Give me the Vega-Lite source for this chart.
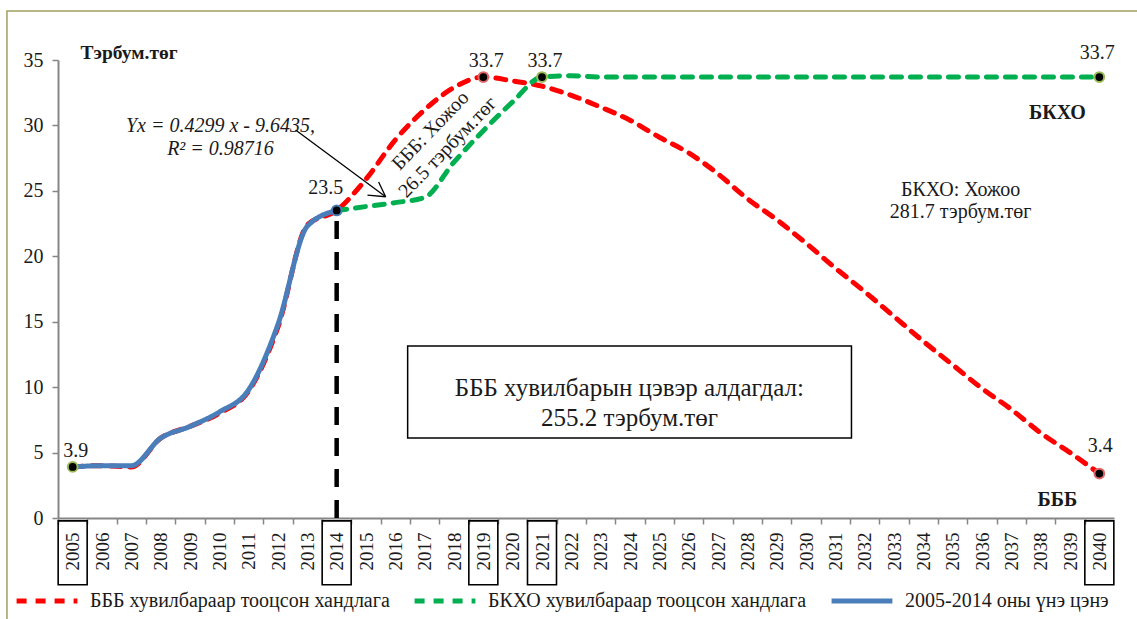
{
  "$schema": "https://vega.github.io/schema/vega-lite/v6.json",
  "width": 1056,
  "height": 458,
  "autosize": {"type": "none"},
  "padding": {"left": 58, "top": 60, "right": 23, "bottom": 101},
  "background": "white",
  "config": {
    "view": {"stroke": null},
    "font": "Liberation Serif",
    "text": {"font": "Liberation Serif", "color": "#1a1a1a"},
    "axis": {"labelOverlap": false, "labelFlush": false, "grid": false},
    "axisX": {
      "labelAngle": -90,
      "labelOverlap": false,
      "labelFlush": false,
      "tickOffset": -14.667,
      "labelOffset": 14.667,
      "tickSize": 6,
      "tickColor": "#868686",
      "tickWidth": 1.5,
      "domainColor": "#868686",
      "domainWidth": 2,
      "labelPadding": 8,
      "labelFont": "Liberation Serif",
      "labelFontSize": 19,
      "labelColor": "#1a1a1a"
    },
    "axisY": {
      "titleAngle": 0,
      "titleAlign": "left",
      "titleBaseline": "alphabetic",
      "titleX": 22,
      "titleY": -2,
      "titleFont": "Liberation Serif",
      "titleFontSize": 19.5,
      "titleFontWeight": "bold",
      "titleColor": "#1a1a1a",
      "tickSize": 6,
      "tickColor": "#868686",
      "tickWidth": 1.5,
      "domainColor": "#868686",
      "domainWidth": 2,
      "labelPadding": 9,
      "labelFont": "Liberation Serif",
      "labelFontSize": 20,
      "labelColor": "#1a1a1a"
    }
  },
  "datasets": {
    "lines": [
      {"year": 2005, "value": 3.9, "series": "БББ хувилбараар тооцсон хандлага"},
      {"year": 2006, "value": 4.0, "series": "БББ хувилбараар тооцсон хандлага"},
      {"year": 2007, "value": 3.9, "series": "БББ хувилбараар тооцсон хандлага"},
      {"year": 2008, "value": 6.1, "series": "БББ хувилбараар тооцсон хандлага"},
      {"year": 2009, "value": 7.0, "series": "БББ хувилбараар тооцсон хандлага"},
      {"year": 2010, "value": 8.0, "series": "БББ хувилбараар тооцсон хандлага"},
      {"year": 2011, "value": 9.7, "series": "БББ хувилбараар тооцсон хандлага"},
      {"year": 2012, "value": 14.6, "series": "БББ хувилбараар тооцсон хандлага"},
      {"year": 2013, "value": 22.4, "series": "БББ хувилбараар тооцсон хандлага"},
      {"year": 2014, "value": 23.5, "series": "БББ хувилбараар тооцсон хандлага"},
      {"year": 2015, "value": 25.9, "series": "БББ хувилбараар тооцсон хандлага"},
      {"year": 2016, "value": 28.9, "series": "БББ хувилбараар тооцсон хандлага"},
      {"year": 2017, "value": 31.2, "series": "БББ хувилбараар тооцсон хандлага"},
      {"year": 2018, "value": 32.9, "series": "БББ хувилбараар тооцсон хандлага"},
      {"year": 2019, "value": 33.7, "series": "БББ хувилбараар тооцсон хандлага"},
      {"year": 2020, "value": 33.4, "series": "БББ хувилбараар тооцсон хандлага"},
      {"year": 2021, "value": 33.0, "series": "БББ хувилбараар тооцсон хандлага"},
      {"year": 2022, "value": 32.3, "series": "БББ хувилбараар тооцсон хандлага"},
      {"year": 2023, "value": 31.4, "series": "БББ хувилбараар тооцсон хандлага"},
      {"year": 2024, "value": 30.4, "series": "БББ хувилбараар тооцсон хандлага"},
      {"year": 2025, "value": 29.1, "series": "БББ хувилбараар тооцсон хандлага"},
      {"year": 2026, "value": 27.9, "series": "БББ хувилбараар тооцсон хандлага"},
      {"year": 2027, "value": 26.3, "series": "БББ хувилбараар тооцсон хандлага"},
      {"year": 2028, "value": 24.4, "series": "БББ хувилбараар тооцсон хандлага"},
      {"year": 2029, "value": 22.8, "series": "БББ хувилбараар тооцсон хандлага"},
      {"year": 2030, "value": 21.0, "series": "БББ хувилбараар тооцсон хандлага"},
      {"year": 2031, "value": 19.1, "series": "БББ хувилбараар тооцсон хандлага"},
      {"year": 2032, "value": 17.3, "series": "БББ хувилбараар тооцсон хандлага"},
      {"year": 2033, "value": 15.4, "series": "БББ хувилбараар тооцсон хандлага"},
      {"year": 2034, "value": 13.5, "series": "БББ хувилбараар тооцсон хандлага"},
      {"year": 2035, "value": 11.7, "series": "БББ хувилбараар тооцсон хандлага"},
      {"year": 2036, "value": 9.9, "series": "БББ хувилбараар тооцсон хандлага"},
      {"year": 2037, "value": 8.3, "series": "БББ хувилбараар тооцсон хандлага"},
      {"year": 2038, "value": 6.5, "series": "БББ хувилбараар тооцсон хандлага"},
      {"year": 2039, "value": 5.0, "series": "БББ хувилбараар тооцсон хандлага"},
      {"year": 2040, "value": 3.4, "series": "БББ хувилбараар тооцсон хандлага"},
      {"year": 2014, "value": 23.5, "series": "БКХО хувилбараар тооцсон хандлага"},
      {"year": 2015, "value": 23.8, "series": "БКХО хувилбараар тооцсон хандлага"},
      {"year": 2016, "value": 24.1, "series": "БКХО хувилбараар тооцсон хандлага"},
      {"year": 2017, "value": 24.5, "series": "БКХО хувилбараар тооцсон хандлага"},
      {"year": 2018, "value": 27.2, "series": "БКХО хувилбараар тооцсон хандлага"},
      {"year": 2019, "value": 29.6, "series": "БКХО хувилбараар тооцсон хандлага"},
      {"year": 2020, "value": 31.8, "series": "БКХО хувилбараар тооцсон хандлага"},
      {"year": 2021, "value": 33.7, "series": "БКХО хувилбараар тооцсон хандлага"},
      {"year": 2022, "value": 33.8, "series": "БКХО хувилбараар тооцсон хандлага"},
      {"year": 2023, "value": 33.7, "series": "БКХО хувилбараар тооцсон хандлага"},
      {"year": 2024, "value": 33.7, "series": "БКХО хувилбараар тооцсон хандлага"},
      {"year": 2025, "value": 33.7, "series": "БКХО хувилбараар тооцсон хандлага"},
      {"year": 2026, "value": 33.7, "series": "БКХО хувилбараар тооцсон хандлага"},
      {"year": 2027, "value": 33.7, "series": "БКХО хувилбараар тооцсон хандлага"},
      {"year": 2028, "value": 33.7, "series": "БКХО хувилбараар тооцсон хандлага"},
      {"year": 2029, "value": 33.7, "series": "БКХО хувилбараар тооцсон хандлага"},
      {"year": 2030, "value": 33.7, "series": "БКХО хувилбараар тооцсон хандлага"},
      {"year": 2031, "value": 33.7, "series": "БКХО хувилбараар тооцсон хандлага"},
      {"year": 2032, "value": 33.7, "series": "БКХО хувилбараар тооцсон хандлага"},
      {"year": 2033, "value": 33.7, "series": "БКХО хувилбараар тооцсон хандлага"},
      {"year": 2034, "value": 33.7, "series": "БКХО хувилбараар тооцсон хандлага"},
      {"year": 2035, "value": 33.7, "series": "БКХО хувилбараар тооцсон хандлага"},
      {"year": 2036, "value": 33.7, "series": "БКХО хувилбараар тооцсон хандлага"},
      {"year": 2037, "value": 33.7, "series": "БКХО хувилбараар тооцсон хандлага"},
      {"year": 2038, "value": 33.7, "series": "БКХО хувилбараар тооцсон хандлага"},
      {"year": 2039, "value": 33.7, "series": "БКХО хувилбараар тооцсон хандлага"},
      {"year": 2040, "value": 33.7, "series": "БКХО хувилбараар тооцсон хандлага"},
      {"year": 2005, "value": 3.9, "series": "2005-2014 оны үнэ цэнэ"},
      {"year": 2006, "value": 4.0, "series": "2005-2014 оны үнэ цэнэ"},
      {"year": 2007, "value": 4.0, "series": "2005-2014 оны үнэ цэнэ"},
      {"year": 2008, "value": 6.1, "series": "2005-2014 оны үнэ цэнэ"},
      {"year": 2009, "value": 7.0, "series": "2005-2014 оны үнэ цэнэ"},
      {"year": 2010, "value": 8.1, "series": "2005-2014 оны үнэ цэнэ"},
      {"year": 2011, "value": 9.8, "series": "2005-2014 оны үнэ цэнэ"},
      {"year": 2012, "value": 14.8, "series": "2005-2014 оны үнэ цэнэ"},
      {"year": 2013, "value": 22.3, "series": "2005-2014 оны үнэ цэнэ"},
      {"year": 2014, "value": 23.5, "series": "2005-2014 оны үнэ цэнэ"}
    ],
    "points": [
      {"year": 2005, "value": 3.9, "label": "3.9", "series": "БКХО хувилбараар тооцсон хандлага"},
      {"year": 2014, "value": 23.5, "label": "23.5", "series": "2005-2014 оны үнэ цэнэ"},
      {"year": 2019, "value": 33.7, "label": "33.7", "series": "БББ хувилбараар тооцсон хандлага"},
      {"year": 2021, "value": 33.7, "label": "33.7", "series": "БКХО хувилбараар тооцсон хандлага"},
      {"year": 2040, "value": 33.7, "label": "33.7", "series": "БКХО хувилбараар тооцсон хандлага"},
      {"year": 2040, "value": 3.4, "label": "3.4", "series": "БББ хувилбараар тооцсон хандлага"}
    ],
    "boxed": [
      {"year": 2005}, {"year": 2014}, {"year": 2019}, {"year": 2021}, {"year": 2040}
    ],
    "one": [{}]
  },
  "layer": [
    {
      "data": {"name": "lines"},
      "transform": [{"filter": "datum.series != '2005-2014 оны үнэ цэнэ'"}],
      "mark": {"type": "line", "interpolate": "monotone", "strokeWidth": 5, "strokeCap": "round"},
      "encoding": {
        "x": {
          "field": "year", "type": "quantitative",
          "scale": {"domain": [2004.5, 2040.5], "nice": false, "zero": false},
          "axis": {
            "values": [2005, 2006, 2007, 2008, 2009, 2010, 2011, 2012, 2013, 2014, 2015, 2016, 2017, 2018, 2019, 2020, 2021, 2022, 2023, 2024, 2025, 2026, 2027, 2028, 2029, 2030, 2031, 2032, 2033, 2034, 2035, 2036, 2037, 2038, 2039, 2040],
            "tickCount": 60,
            "format": "d",
            "title": null,
            "labelOverlap": false
          }
        },
        "y": {
          "field": "value", "type": "quantitative",
          "scale": {"domain": [0, 35], "nice": false},
          "axis": {
            "values": [0, 5, 10, 15, 20, 25, 30, 35],
            "tickCount": 20,
            "title": "Тэрбум.төг"
          }
        },
        "color": {
          "field": "series", "type": "nominal",
          "scale": {
            "domain": ["БББ хувилбараар тооцсон хандлага", "БКХО хувилбараар тооцсон хандлага", "2005-2014 оны үнэ цэнэ"],
            "range": ["#ff0000", "#00b050", "#4a7ebb"]
          },
          "legend": {
            "orient": "none",
            "legendX": -44,
            "legendY": 508,
            "direction": "horizontal",
            "title": null,
            "symbolType": "stroke",
            "symbolSize": 3700,
            "symbolStrokeWidth": 5,
            "labelFont": "Liberation Serif",
            "labelFontSize": 20,
            "labelColor": "#1a1a1a",
            "labelLimit": 0,
            "labelOffset": 10,
            "columnPadding": 14,
            "padding": 0
          }
        },
        "strokeDash": {
          "field": "series", "type": "nominal",
          "scale": {
            "domain": ["БББ хувилбараар тооцсон хандлага", "БКХО хувилбараар тооцсон хандлага", "2005-2014 оны үнэ цэнэ"],
            "range": [[10, 9], [10, 9], [1, 0]]
          }
        }
      }
    },
    {
      "data": {"name": "one"},
      "mark": {"type": "rect", "fillOpacity": 0, "stroke": "#a0a060", "strokeWidth": 1.5},
      "encoding": {
        "x": {"datum": 2002.76, "type": "quantitative"},
        "x2": {"datum": 2041.5},
        "y": {"datum": 38.74, "type": "quantitative"},
        "y2": {"datum": -9}
      }
    },
    {
      "data": {"name": "boxed"},
      "mark": {"type": "rect", "width": 29, "fillOpacity": 0, "stroke": "black", "strokeWidth": 1.6},
      "encoding": {
        "x": {"field": "year", "type": "quantitative"},
        "y": {"datum": -0.22, "type": "quantitative"},
        "y2": {"datum": -5.1}
      }
    },
    {
      "data": {"name": "one"},
      "mark": {"type": "rule", "stroke": "black", "strokeWidth": 4.5, "strokeDash": [18, 13]},
      "encoding": {
        "x": {"datum": 2014, "type": "quantitative"},
        "y": {"datum": 0, "type": "quantitative"},
        "y2": {"datum": 23.5}
      }
    },
    {
      "data": {"name": "lines"},
      "transform": [{"filter": "datum.series == '2005-2014 оны үнэ цэнэ'"}],
      "mark": {"type": "line", "interpolate": "monotone", "strokeWidth": 5, "strokeCap": "round"},
      "encoding": {
        "x": {"field": "year", "type": "quantitative"},
        "y": {"field": "value", "type": "quantitative"},
        "color": {"field": "series", "type": "nominal"},
        "strokeDash": {"field": "series", "type": "nominal"}
      }
    },
    {
      "data": {"name": "points"},
      "mark": {"type": "circle", "fill": "black", "fillOpacity": 1, "opacity": 1, "size": 95, "strokeWidth": 2},
      "encoding": {
        "x": {"field": "year", "type": "quantitative"},
        "y": {"field": "value", "type": "quantitative"},
        "stroke": {
          "field": "series", "type": "nominal",
          "scale": {
            "domain": ["БББ хувилбараар тооцсон хандлага", "БКХО хувилбараар тооцсон хандлага", "2005-2014 оны үнэ цэнэ"],
            "range": ["#e06666", "#9bbb59", "#4a7ebb"]
          },
          "legend": null
        }
      }
    },
    {
      "data": {"name": "points"},
      "transform": [{"filter": "datum.year == 2005 || datum.year == 2019 || datum.year == 2021"}],
      "mark": {"type": "text", "fontSize": 20, "dy": -16, "dx": 3, "baseline": "middle"},
      "encoding": {
        "x": {"field": "year", "type": "quantitative"},
        "y": {"field": "value", "type": "quantitative"},
        "text": {"field": "label"}
      }
    },
    {
      "data": {"name": "points"},
      "transform": [{"filter": "datum.year == 2014"}],
      "mark": {"type": "text", "fontSize": 20, "dy": -22, "dx": -11, "baseline": "middle"},
      "encoding": {
        "x": {"field": "year", "type": "quantitative"},
        "y": {"field": "value", "type": "quantitative"},
        "text": {"field": "label"}
      }
    },
    {
      "data": {"name": "points"},
      "transform": [{"filter": "datum.year == 2040 && datum.value > 30"}],
      "mark": {"type": "text", "fontSize": 20, "dy": -24, "dx": -2, "baseline": "middle"},
      "encoding": {
        "x": {"field": "year", "type": "quantitative"},
        "y": {"field": "value", "type": "quantitative"},
        "text": {"field": "label"}
      }
    },
    {
      "data": {"name": "points"},
      "transform": [{"filter": "datum.year == 2040 && datum.value < 10"}],
      "mark": {"type": "text", "fontSize": 20, "dy": -28, "dx": 1, "baseline": "middle"},
      "encoding": {
        "x": {"field": "year", "type": "quantitative"},
        "y": {"field": "value", "type": "quantitative"},
        "text": {"field": "label"}
      }
    },
    {
      "data": {"name": "one"},
      "mark": {"type": "rect", "fill": "white", "stroke": "black", "strokeWidth": 1.5},
      "encoding": {
        "x": {"datum": 2016.42, "type": "quantitative"},
        "x2": {"datum": 2031.55},
        "y": {"datum": 13.14, "type": "quantitative"},
        "y2": {"datum": 6.11}
      }
    },
    {
      "data": {"name": "one"},
      "mark": {"type": "text", "fontSize": 25, "align": "center", "baseline": "middle", "lineHeight": 30, "text": ["БББ хувилбарын цэвэр алдагдал:", "255.2 тэрбум.төг"]},
      "encoding": {
        "x": {"datum": 2023.98, "type": "quantitative"},
        "y": {"datum": 9.9, "type": "quantitative"}
      }
    },
    {
      "data": {"name": "one"},
      "mark": {"type": "text", "fontSize": 20, "align": "center", "baseline": "middle", "lineHeight": 22, "text": ["БКХО: Хожоо", "281.7 тэрбум.төг"]},
      "encoding": {
        "x": {"datum": 2035.27, "type": "quantitative"},
        "y": {"datum": 25.1, "type": "quantitative"}
      }
    },
    {
      "data": {"name": "one"},
      "mark": {"type": "text", "fontSize": 20, "fontWeight": "bold", "align": "center", "baseline": "middle", "text": "БКХО"},
      "encoding": {
        "x": {"datum": 2038.57, "type": "quantitative"},
        "y": {"datum": 30.95, "type": "quantitative"}
      }
    },
    {
      "data": {"name": "one"},
      "mark": {"type": "text", "fontSize": 20, "fontWeight": "bold", "align": "center", "baseline": "middle", "text": "БББ"},
      "encoding": {
        "x": {"datum": 2038.57, "type": "quantitative"},
        "y": {"datum": 1.38, "type": "quantitative"}
      }
    },
    {
      "data": {"name": "one"},
      "mark": {"type": "text", "fontSize": 20, "fontStyle": "italic", "align": "center", "baseline": "middle", "lineHeight": 23, "text": ["Yx = 0.4299 x - 9.6435,", "R² = 0.98716"]},
      "encoding": {
        "x": {"datum": 2010.04, "type": "quantitative"},
        "y": {"datum": 29.92, "type": "quantitative"}
      }
    },
    {
      "data": {"name": "one"},
      "mark": {"type": "text", "fontSize": 20, "angle": -46, "align": "center", "baseline": "middle", "lineHeight": 24, "text": ["БББ: Хожоо", "26.5 тэрбум.төг"]},
      "encoding": {
        "x": {"datum": 2017.2, "type": "quantitative"},
        "y": {"datum": 29.6, "type": "quantitative"}
      }
    },
    {
      "data": {"name": "one"},
      "mark": {"type": "rule", "stroke": "black", "strokeWidth": 1.3},
      "encoding": {
        "x": {"datum": 2012.6, "type": "quantitative"},
        "x2": {"datum": 2015.67},
        "y": {"datum": 29.65, "type": "quantitative"},
        "y2": {"datum": 24.55}
      }
    },
    {
      "data": {"name": "one"},
      "mark": {"type": "rule", "stroke": "black", "strokeWidth": 1.3},
      "encoding": {
        "x": {"datum": 2015.43, "type": "quantitative"},
        "x2": {"datum": 2015.67},
        "y": {"datum": 25.68, "type": "quantitative"},
        "y2": {"datum": 24.55}
      }
    },
    {
      "data": {"name": "one"},
      "mark": {"type": "rule", "stroke": "black", "strokeWidth": 1.3},
      "encoding": {
        "x": {"datum": 2015.05, "type": "quantitative"},
        "x2": {"datum": 2015.67},
        "y": {"datum": 24.68, "type": "quantitative"},
        "y2": {"datum": 24.55}
      }
    }
  ]
}
